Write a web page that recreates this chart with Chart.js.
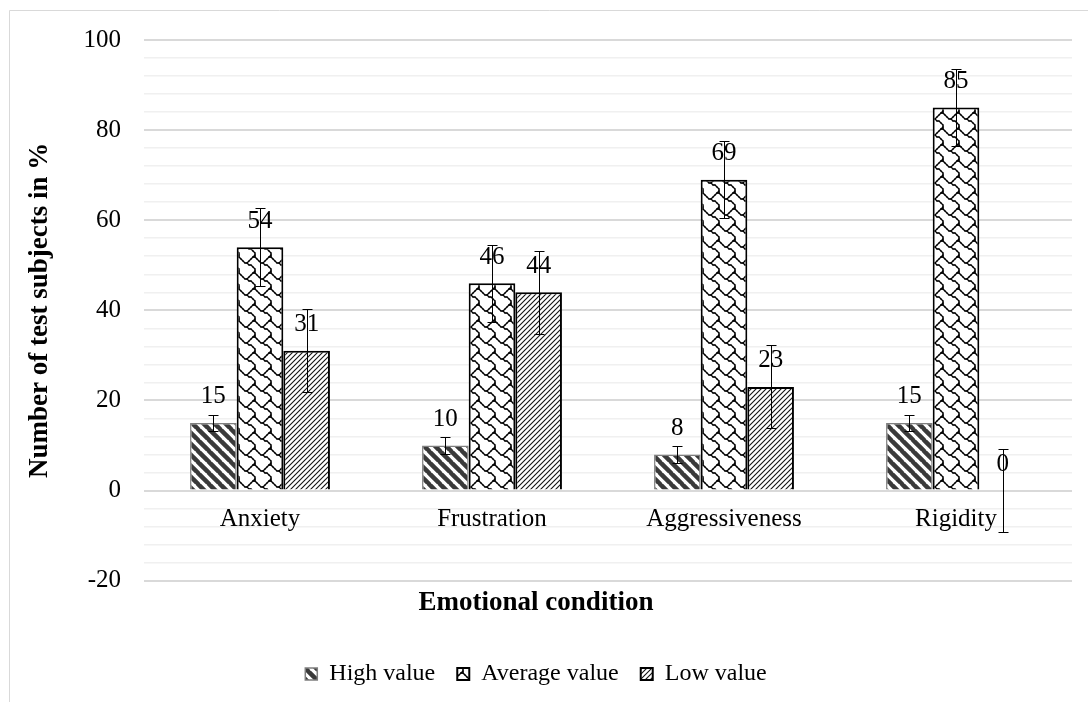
<!DOCTYPE html>
<html>
<head>
<meta charset="utf-8">
<script src="https://cdn.jsdelivr.net/npm/chart.js@4.4.1/dist/chart.umd.min.js"></script>
<style>
  html, body { margin: 0; padding: 0; background: #fff; }
  #wrap { width: 1088px; height: 702px; position: relative; }
</style>
</head>
<body>
<div id="wrap"><canvas id="chart"></canvas></div>
<script>
// Chart data
const categories = ["Anxiety", "Frustration", "Aggressiveness", "Rigidity"];
const seriesNames = ["High value", "Average value", "Low value"];
const highValues = [15, 10, 8, 15];
const averageValues = [54, 46, 69, 85];
const lowValues = [31, 44, 23, 0];
const highErrors = [1.8, 1.8, 1.8, 1.8];
const averageErrors = [8.6, 8.6, 8.6, 8.6];
const lowErrors = [9.2, 9.2, 9.2, 9.2];
// y axis range
const yMin = -20;
const yMax = 100;
const yLabelStep = 20;
const yMinorStep = 4;

const SERIF = "'Liberation Serif', 'Times New Roman', serif";

// Pattern fills
function makeTile(w, h) {
  const c = document.createElement("canvas");
  c.width = w;
  c.height = h;
  return c;
}

function wideDownwardDiagonal() {
  const s = 11;
  const c = makeTile(s, s);
  const ctx = c.getContext("2d");
  ctx.fillStyle = "#fff";
  ctx.fillRect(0, 0, s, s);
  ctx.strokeStyle = "#3a3a3a";
  ctx.lineWidth = 4.5;
  for (let k = -1; k <= 1; k++) {
    ctx.beginPath();
    ctx.moveTo(k * s - 1, -1);
    ctx.lineTo(k * s + s + 1, s + 1);
    ctx.stroke();
  }
  return ctx.createPattern(c, "repeat");
}

function lightUpwardDiagonal() {
  const s = 5;
  const c = makeTile(s, s);
  const ctx = c.getContext("2d");
  ctx.fillStyle = "#fff";
  ctx.fillRect(0, 0, s, s);
  ctx.strokeStyle = "#111";
  ctx.lineWidth = 1.1;
  for (let k = -1; k <= 1; k++) {
    ctx.beginPath();
    ctx.moveTo(k * s - 1, s + 1);
    ctx.lineTo(k * s + s + 1, -1);
    ctx.stroke();
  }
  return ctx.createPattern(c, "repeat");
}

function shingle() {
  // 8x8 bitmap, scaled up and traced as lines
  const bits = [[6, 7], [0, 5], [1, 4], [2, 3], [4, 5], [6], [7], [7]];
  const sc = 2;
  const n = 8;
  const c = makeTile(n * sc, n * sc);
  const ctx = c.getContext("2d");
  ctx.fillStyle = "#fff";
  ctx.fillRect(0, 0, n * sc, n * sc);
  const on = (x, y) => bits[((y % n) + n) % n].includes(((x % n) + n) % n);
  ctx.strokeStyle = "#000";
  ctx.lineWidth = 1.3;
  ctx.lineCap = "round";
  const steps = [[1, 0], [0, 1], [1, 1], [-1, 1]];
  for (let ox = -1; ox <= 1; ox++) {
    for (let oy = -1; oy <= 1; oy++) {
      for (let y = 0; y < n; y++) {
        for (const x of bits[y]) {
          for (const [dx, dy] of steps) {
            if (on(x + dx, y + dy)) {
              ctx.beginPath();
              ctx.moveTo((x + ox * n + 0.5) * sc, (y + oy * n + 0.5) * sc);
              ctx.lineTo((x + dx + ox * n + 0.5) * sc, (y + dy + oy * n + 0.5) * sc);
              ctx.stroke();
            }
          }
        }
      }
    }
  }
  return ctx.createPattern(c, "repeat");
}

const errorSets = [highErrors, averageErrors, lowErrors];

// frame + white background
const framePlugin = {
  id: "frame",
  beforeDraw(chart) {
    const ctx = chart.ctx;
    ctx.save();
    ctx.fillStyle = "#fff";
    ctx.fillRect(0, 0, chart.width, chart.height);
    ctx.strokeStyle = "#d9d9d9";
    ctx.lineWidth = 1;
    ctx.beginPath();
    ctx.moveTo(9.5, chart.height + 2);
    ctx.lineTo(9.5, 10.5);
    ctx.lineTo(chart.width + 2, 10.5);
    ctx.stroke();
    ctx.restore();
  },
};

// value labels and error whiskers
const barExtrasPlugin = {
  id: "barExtras",
  afterDatasetsDraw(chart) {
    const ctx = chart.ctx;
    const yScale = chart.scales.y;
    ctx.save();
    chart.data.datasets.forEach((ds, i) => {
      const meta = chart.getDatasetMeta(i);
      meta.data.forEach((bar, j) => {
        const v = ds.data[j];
        ctx.fillStyle = "#000";
        ctx.font = "25px " + SERIF;
        ctx.textAlign = "center";
        ctx.textBaseline = "middle";
        ctx.fillText(String(v), bar.x, yScale.getPixelForValue(v) - 26);
      });
    });
    chart.data.datasets.forEach((ds, i) => {
      const meta = chart.getDatasetMeta(i);
      const errs = errorSets[i];
      meta.data.forEach((bar, j) => {
        const v = ds.data[j];
        const top = Math.round(yScale.getPixelForValue(v + errs[j])) + 0.5;
        const bot = Math.round(yScale.getPixelForValue(v - errs[j])) + 0.5;
        const x = Math.round(bar.x) + 0.5;
        ctx.strokeStyle = "#000";
        ctx.lineWidth = 1;
        ctx.beginPath();
        ctx.moveTo(x, top);
        ctx.lineTo(x, bot);
        ctx.moveTo(x - 5, top);
        ctx.lineTo(x + 5, top);
        ctx.moveTo(x - 5, bot);
        ctx.lineTo(x + 5, bot);
        ctx.stroke();
      });
    });
    ctx.restore();
  },
};

document.addEventListener("DOMContentLoaded", () => {
  const ctx = document.getElementById("chart").getContext("2d");

  new Chart(ctx, {
    type: "bar",
    data: {
      labels: categories,
      datasets: [
        {
          label: seriesNames[0],
          data: highValues,
          backgroundColor: wideDownwardDiagonal(),
          borderColor: "#7f7f7f",
          borderWidth: 1.5,
        },
        {
          label: seriesNames[1],
          data: averageValues,
          backgroundColor: shingle(),
          borderColor: "#000",
          borderWidth: 2,
        },
        {
          label: seriesNames[2],
          data: lowValues,
          backgroundColor: lightUpwardDiagonal(),
          borderColor: "#000",
          borderWidth: 2,
        },
      ],
    },
    options: {
      responsive: true,
      maintainAspectRatio: false,
      animation: false,
      categoryPercentage: 0.603,
      barPercentage: 1,
      layout: {
        padding: { left: 0, right: 16, top: 40, bottom: 6 },
      },
      scales: {
        x: {
          position: { y: 0 },
          grid: { display: false, drawTicks: false },
          border: { display: false },
          ticks: {
            color: "#000",
            padding: 14,
            font: { family: SERIF, size: 25 },
          },
        },
        y: {
          min: yMin,
          max: yMax,
          afterFit(scale) {
            scale.width = 144;
          },
          border: { display: false },
          grid: {
            drawTicks: false,
            color: (c) => (c.tick && c.tick.value % yLabelStep === 0 ? "#d9d9d9" : "#f0f0f0"),
            lineWidth: (c) => (c.tick && c.tick.value % yLabelStep === 0 ? 2 : 1.5),
          },
          ticks: {
            stepSize: yMinorStep,
            autoSkip: false,
            color: "#000",
            padding: 23,
            font: { family: SERIF, size: 25 },
            callback: (value) => (value % yLabelStep === 0 ? String(value) : ""),
          },
          title: {
            display: true,
            text: "Number of test subjects in %",
            color: "#000",
            padding: { top: 24, bottom: 0 },
            font: { family: SERIF, size: 27, weight: "bold" },
          },
        },
      },
      plugins: {
        title: {
          display: true,
          position: "bottom",
          text: "Emotional condition",
          color: "#000",
          weight: 1000,
          padding: { top: 6, bottom: 21 },
          font: { family: SERIF, size: 27, weight: "bold" },
        },
        legend: {
          position: "bottom",
          weight: 3000,
          labels: {
            color: "#000",
            boxWidth: 12,
            boxHeight: 12,
            padding: 22,
            font: { family: SERIF, size: 24 },
          },
        },
        tooltip: { enabled: false },
      },
    },
    plugins: [framePlugin, barExtrasPlugin],
  });
});
</script>
</body>
</html>
